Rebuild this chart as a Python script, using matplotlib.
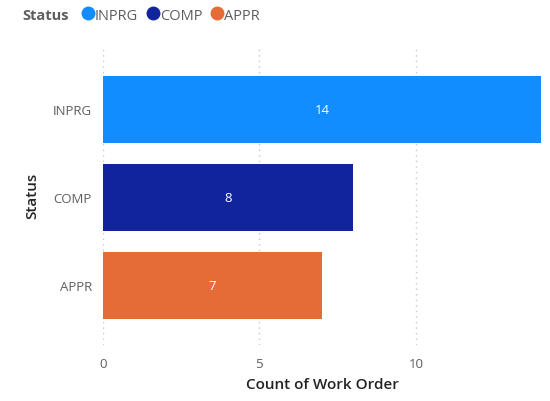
import matplotlib.pyplot as plt
from matplotlib.lines import Line2D

statuses = ['INPRG', 'COMP', 'APPR']
counts = [14, 8, 7]
colors = ['#118DFF', '#12239E', '#E66C37']
x_ticks = [0, 5, 10]

plt.rcParams['font.family'] = ['Open Sans', 'DejaVu Sans']

fig = plt.figure(figsize=(5.5, 4.02), dpi=100)
ax = fig.add_axes([103 / 550, 1 - 346 / 402, 438 / 550, 300 / 402])

ypos = list(range(len(statuses)))
ax.barh(ypos, counts, height=0.76, color=colors)
for y, v in zip(ypos, counts):
    ax.text(v / 2, y, str(v), color='white', ha='center', va='center', fontsize=9.5)

ax.set_xlim(0, 14)
ax.set_ylim(2.68, -0.73)
ax.set_yticks(ypos)
ax.set_yticklabels(statuses)
ax.set_xticks(x_ticks)
ax.tick_params(length=0, labelsize=9.5, labelcolor='#605E5C')
ax.tick_params(axis='y', pad=8)
ax.tick_params(axis='x', pad=9)
ax.grid(axis='x', linestyle=(0, (1, 3)), color='#C8C8C8', linewidth=1)
ax.set_axisbelow(True)
for s in ax.spines.values():
    s.set_visible(False)

ax.set_xlabel('Count of Work Order', fontsize=11, color='#252423', labelpad=5,
              fontweight='semibold')
ax.set_ylabel('Status', fontsize=11, color='#252423', labelpad=10,
              fontweight='semibold')

fig.text(22 / 550, 1 - 16 / 402, 'Status', fontsize=10.5, fontweight='bold',
         color='#605E5C', va='center', ha='left')
handles = [Line2D([], [], marker='o', linestyle='', markersize=9, color=c) for c in colors]
fig.legend(handles, statuses, loc='center left', bbox_to_anchor=(73 / 550, 1 - 16 / 402),
           ncol=3, frameon=False, fontsize=10.5, handletextpad=0.0, columnspacing=0.5,
           handlelength=1.0, borderpad=0, labelcolor='#605E5C')

fig.savefig('out.png', dpi=100)
